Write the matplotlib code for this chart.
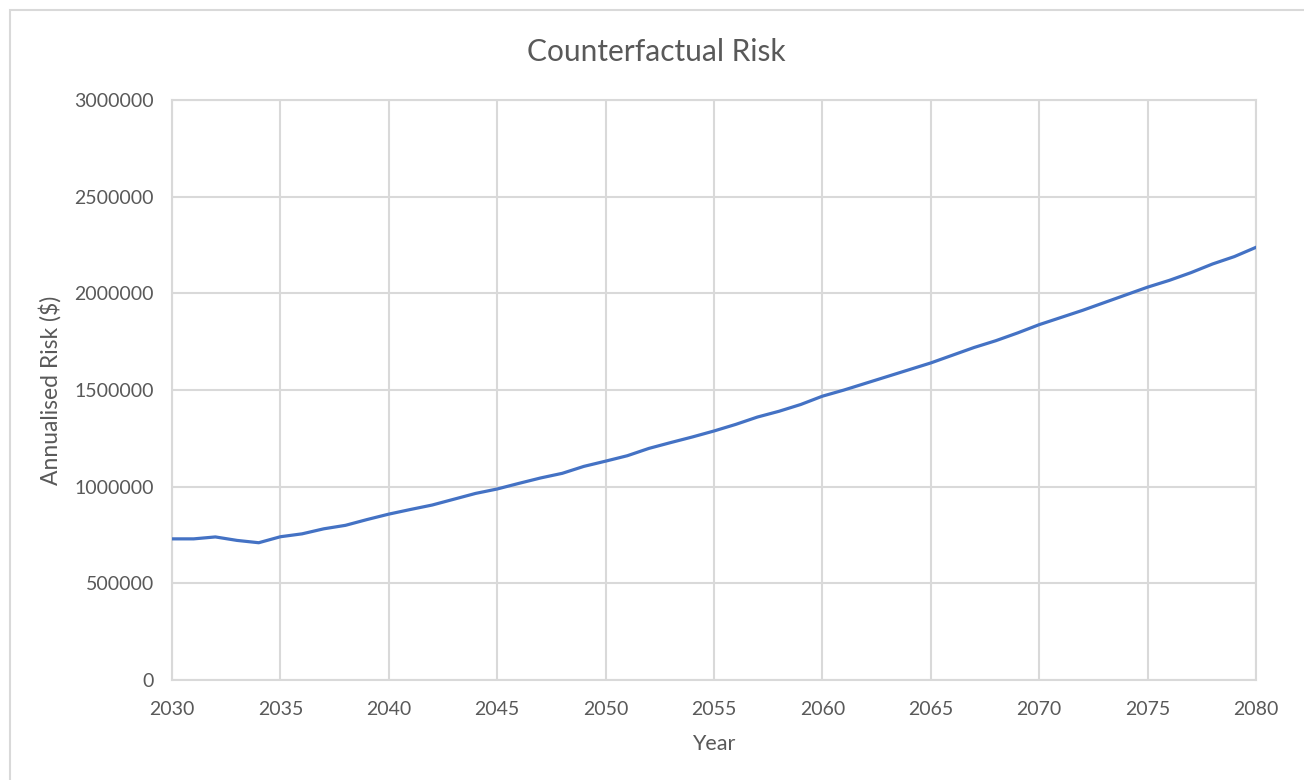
import numpy as np
import matplotlib.pyplot as plt
from matplotlib.patches import Rectangle

plt.rcParams['font.family'] = ['Lato', 'DejaVu Sans']

years = list(range(2030, 2081))
risk = [
    730000, 730000, 740000, 722000, 710000,
    741000, 756000, 782000, 800000, 830000,
    858000, 882000, 905000, 935000, 965000,
    988000, 1017000, 1045000, 1069000, 1105000,
    1132000, 1160000, 1198000, 1228000, 1257000,
    1288000, 1322000, 1360000, 1390000, 1425000,
    1468000, 1500000, 1535000, 1570000, 1605000,
    1640000, 1680000, 1720000, 1755000, 1795000,
    1838000, 1875000, 1912000, 1952000, 1992000,
    2032000, 2067000, 2107000, 2152000, 2190000,
    2238000,
]
xticks = list(range(2030, 2081, 5))
yticks = [0, 500000, 1000000, 1500000, 2000000, 2500000, 3000000]

grey = '#595959'
grid = '#d9d9d9'
W, H = 1304, 780

fig = plt.figure(figsize=(W/100, H/100), dpi=100)
ax = fig.add_axes([172/W, 1 - 680/H, (1256 - 172)/W, 580/H])

# chart border, cut off on the right and bottom like the screenshot
fig.patches.append(Rectangle((10/W, -0.05), 1.2, 1 - 10/H + 0.05,
                             transform=fig.transFigure, fill=False,
                             edgecolor='#d9d9d9', linewidth=1.5))

ax.plot(years, risk, color='#4472C4', linewidth=2.3, solid_joinstyle='round', zorder=3)

ax.set_xlim(2030, 2080)
ax.set_ylim(0, 3000000)
ax.set_xticks(xticks)
ax.set_yticks(yticks)
ax.set_yticklabels([str(v) for v in yticks])
ax.grid(True, color=grid, linewidth=1.5)
ax.set_axisbelow(True)
for s in ax.spines.values():
    s.set_color(grid)
    s.set_linewidth(1.5)
ax.tick_params(length=0, labelsize=14, colors=grey)
ax.tick_params(axis='x', pad=15)
ax.tick_params(axis='y', pad=13)

fig.text(714/W, 1 - 744/H, 'Year', fontsize=15.5, color=grey, ha='center', va='center')
fig.text(50/W, 1 - 390/H, 'Annualised Risk ($)', fontsize=16.5, color=grey,
         rotation=90, ha='center', va='center')
fig.text(656/W, 1 - 52/H, 'Counterfactual Risk', fontsize=21.5, color=grey,
         ha='center', va='center')

fig.savefig('out.png', dpi=100)
